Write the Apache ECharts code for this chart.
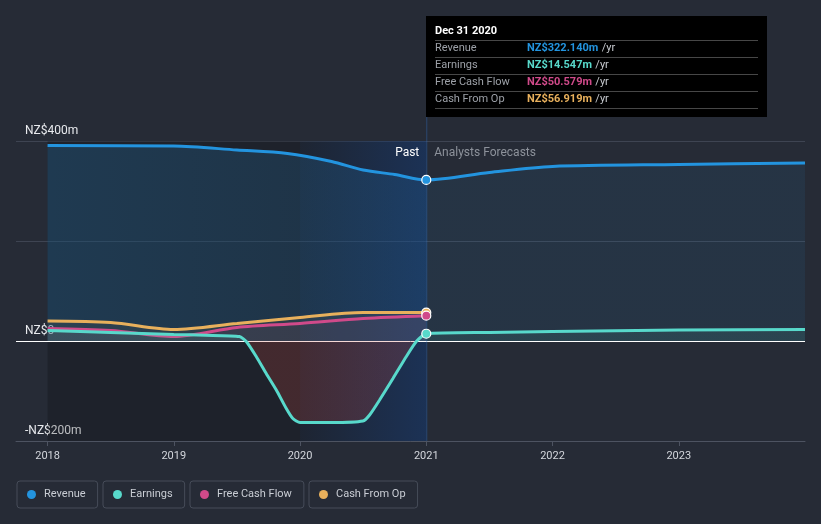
<!DOCTYPE html>
<html><head><meta charset="utf-8">
<script src="https://cdn.jsdelivr.net/npm/echarts@6/dist/echarts.min.js"></script>
<style>html,body{margin:0;padding:0;background:#262b36;} #c{width:821px;height:524px;}</style>
</head><body><div id="c"></div>
<script>
// ---- data ----
const yearTicks = [2018, 2019, 2020, 2021, 2022, 2023];
const yLabelValues = [-200, 0, 400];
const yLabelTexts = ['-NZ$200m', 'NZ$0', 'NZ$400m'];

const revenueYears = [2018, 2019, 2019.5, 2019.9, 2020.25, 2020.5, 2020.75, 2021, 2021.5, 2022, 2023, 2024];
const revenueValues = [391, 390, 382, 375, 359, 342, 333, 322.14, 337, 349, 353, 356];

const earningsYears = [2018, 2018.5, 2019, 2019.25, 2019.52, 2019.574, 2019.653, 2019.732, 2019.812, 2019.891, 2019.943, 2020, 2020.25, 2020.498, 2020.551, 2020.63, 2020.736, 2020.842, 2020.921, 2021, 2021.5, 2022, 2023, 2024];
const earningsValues = [21, 17, 13, 11.5, 9, -1, -31, -65, -98, -135, -155, -163, -163, -160, -148, -118, -75, -31, -1, 14.547, 17, 19, 22, 23];

const fcfYears = [2018, 2018.5, 2019, 2019.5, 2020, 2020.5, 2021];
const fcfValues = [25, 21, 9, 27, 35, 45, 50.579];

const cfoYears = [2018, 2018.5, 2019, 2019.5, 2020, 2020.5, 2021];
const cfoValues = [40, 37, 23, 35, 47, 57, 56.919];

const pastStart = 2018, pastEnd = 2021, highlightStart = 2020, forecastEnd = 2024;
const tooltipDate = 'Dec 31 2020';

// ---- styles ----
const C = { rev: '#2394df', earn: '#58d9cb', fcf: '#d04a8a', cfo: '#e8b05c' };
const FONT = 'Roboto, "Noto Sans", sans-serif';

const zip = (xs, ys) => xs.map((x, i) => [x, ys[i]]);
const at = (xs, ys, x) => ys[xs.indexOf(x)];

const chart = echarts.init(document.getElementById('c'), null, { renderer: 'canvas' });

const earnGrad = new echarts.graphic.LinearGradient(0, 141, 0, 441, [
  { offset: 0, color: 'rgba(80,200,175,0.16)' },
  { offset: 0.6667, color: 'rgba(80,200,175,0.16)' },
  { offset: 0.6667, color: 'rgba(205,70,60,0.3)' },
  { offset: 1, color: 'rgba(205,70,60,0.3)' }
], true);

function lineSeries(name, xs, ys, color, area, z, smooth) {
  return {
    name, type: 'line', data: zip(xs, ys), showSymbol: false, smooth,
    lineStyle: { color, width: 3 }, itemStyle: { color },
    areaStyle: area, z, silent: true
  };
}
function dot(name, xs, ys, color) {
  return {
    name: name + '-dot', type: 'scatter', data: [[pastEnd, at(xs, ys, pastEnd)]],
    symbol: 'circle', symbolSize: 9, z: 10, silent: true,
    itemStyle: { color, borderColor: '#ffffff', borderWidth: 1.2, opacity: 1 }
  };
}
const fmt = v => 'NZ$' + v.toFixed(3) + 'm';

const legendBase = (name, left) => ({
  data: [name], left, top: 481, icon: 'circle', itemWidth: 9, itemHeight: 9,
  padding: [8, 12, 8, 10], borderColor: '#464c59', borderWidth: 1, borderRadius: 3,
  textStyle: { color: '#c9cdd4', fontSize: 11, fontFamily: FONT, padding: [0, 0, 0, 3] }, selectedMode: false
});

const option = {
  backgroundColor: '#262b36',
  animation: false,
  grid: { left: 16, right: 16, top: 141, bottom: 83, containLabel: false },
  xAxis: {
    type: 'value', min: 2017.75, max: forecastEnd,
    axisLine: { onZero: false, lineStyle: { color: '#4d5361', width: 1 } },
    axisTick: { show: true, customValues: yearTicks, length: 5, lineStyle: { color: '#4d5361' } },
    axisLabel: { customValues: yearTicks, formatter: v => String(v), color: '#d3d6dc', fontSize: 11, fontFamily: FONT, margin: 10 },
    splitLine: { show: false }
  },
  yAxis: {
    type: 'value', min: -200, max: 400, interval: 200,
    axisLine: { show: false }, axisTick: { show: false },
    splitLine: { lineStyle: { color: '#3e4452', width: 1 } },
    axisLabel: {
      inside: true, margin: 9, verticalAlign: 'bottom', padding: [0, 0, 4, 0],
      color: '#e8eaee', fontSize: 12, fontFamily: FONT,
      formatter: v => { const i = yLabelValues.indexOf(v); return i >= 0 ? yLabelTexts[i] : ''; }
    }
  },
  legend: [
    legendBase('Revenue', 17), legendBase('Earnings', 103),
    legendBase('Free Cash Flow', 190), legendBase('Cash From Op', 309)
  ],
  series: [
    {
      name: 'bands', type: 'line', data: [], z: 1, silent: true,
      markArea: {
        silent: true,
        data: [
          [{ xAxis: pastStart, yAxis: -200, itemStyle: { color: 'rgba(0,0,0,0.2)' } }, { xAxis: pastEnd, yAxis: 400 }],
          [{ xAxis: highlightStart, yAxis: -200, itemStyle: {
              color: new echarts.graphic.LinearGradient(0, 0, 1, 0, [
                { offset: 0, color: 'rgba(20,100,220,0.04)' },
                { offset: 1, color: 'rgba(20,100,220,0.24)' }
              ]) } }, { xAxis: pastEnd, yAxis: 400 }]
        ]
      }
    },
    lineSeries('Revenue', revenueYears, revenueValues, C.rev, { color: 'rgba(35,148,223,0.17)' }, 2, 0.3),
    lineSeries('Cash From Op', cfoYears, cfoValues, C.cfo, { color: 'rgba(232,176,92,0.1)' }, 3, 0.3),
    lineSeries('Free Cash Flow', fcfYears, fcfValues, C.fcf, { color: 'rgba(208,74,138,0.1)' }, 4, 0.3),
    lineSeries('Earnings', earningsYears, earningsValues, C.earn, { color: earnGrad }, 5, 0.2),
    {
      name: 'zero', type: 'line', data: [], z: 6, silent: true,
      markLine: { silent: true, symbol: 'none', label: { show: false },
        lineStyle: { color: '#ffffff', width: 1, type: 'solid' }, data: [{ yAxis: 0 }] }
    },
    dot('Revenue', revenueYears, revenueValues, C.rev),
    dot('Cash From Op', cfoYears, cfoValues, C.cfo),
    dot('Free Cash Flow', fcfYears, fcfValues, C.fcf),
    dot('Earnings', earningsYears, earningsValues, C.earn)
  ]
};
chart.setOption(option);

const px = chart.convertToPixel({ xAxisIndex: 0 }, pastEnd);
const x0 = chart.convertToPixel({ xAxisIndex: 0 }, pastStart);
const x1 = chart.convertToPixel({ xAxisIndex: 0 }, forecastEnd);
const xh = chart.convertToPixel({ xAxisIndex: 0 }, highlightStart);
const yTop = chart.convertToPixel({ yAxisIndex: 0 }, 400);
const yBot = chart.convertToPixel({ yAxisIndex: 0 }, -200);

// revenue area: brighter in the past, fading to the forecast tint
const off = x => (x - x0) / (x1 - x0);
const revGrad = new echarts.graphic.LinearGradient(x0, 0, x1, 0, [
  { offset: 0, color: 'rgba(35,148,223,0.30)' },
  { offset: off(xh), color: 'rgba(35,148,223,0.23)' },
  { offset: off(px), color: 'rgba(35,148,223,0.17)' },
  { offset: off(px) + 0.0005, color: 'rgba(35,148,223,0.12)' },
  { offset: 1, color: 'rgba(35,148,223,0.12)' }
], true);

const rows = [
  ['Revenue', fmt(at(revenueYears, revenueValues, pastEnd)), C.rev],
  ['Earnings', fmt(at(earningsYears, earningsValues, pastEnd)), C.earn],
  ['Free Cash Flow', fmt(at(fcfYears, fcfValues, pastEnd)), C.fcf],
  ['Cash From Op', fmt(at(cfoYears, cfoValues, pastEnd)), C.cfo]
];
const g = [
  { type: 'line', z: 7, silent: true, shape: { x1: px + 0.5, y1: 117, x2: px + 0.5, y2: yBot }, style: { stroke: 'rgba(50,115,200,0.4)', lineWidth: 1 } },
  { type: 'text', z: 7, silent: true, x: px - 7, y: yTop + 12, style: { text: 'Past', fill: '#ffffff', font: '12px ' + FONT, align: 'right', verticalAlign: 'middle' } },
  { type: 'text', z: 7, silent: true, x: px + 8, y: yTop + 12, style: { text: 'Analysts Forecasts', fill: '#8d929b', font: '12px ' + FONT, align: 'left', verticalAlign: 'middle' } },
  { type: 'rect', z: 20, silent: true, shape: { x: 426, y: 16, width: 341, height: 101 }, style: { fill: '#000000' } },
  { type: 'text', z: 21, silent: true, x: 435, y: 31, style: { text: tooltipDate, fill: '#ffffff', font: 'bold 11px ' + FONT, verticalAlign: 'middle' } }
];
[40, 57, 74, 91, 108].forEach(y => g.push({ type: 'line', z: 21, silent: true, shape: { x1: 435, y1: y + 0.5, x2: 758, y2: y + 0.5 }, style: { stroke: '#474747', lineWidth: 1 } }));
rows.forEach((r, i) => {
  const y = 48.5 + i * 17;
  g.push({ type: 'text', z: 21, silent: true, x: 435, y, style: { text: r[0], fill: '#9da1a8', font: '11px ' + FONT, verticalAlign: 'middle' } });
  g.push({ type: 'text', z: 21, silent: true, x: 527, y, style: {
    text: '{v|' + r[1] + '} {u|/yr}', verticalAlign: 'middle',
    rich: { v: { fill: r[2], font: 'bold 11px ' + FONT }, u: { fill: '#c8cbd0', font: '11px ' + FONT } } } });
});
chart.setOption({ graphic: g, series: [{}, { areaStyle: { color: revGrad } }] });
</script>
</body></html>
